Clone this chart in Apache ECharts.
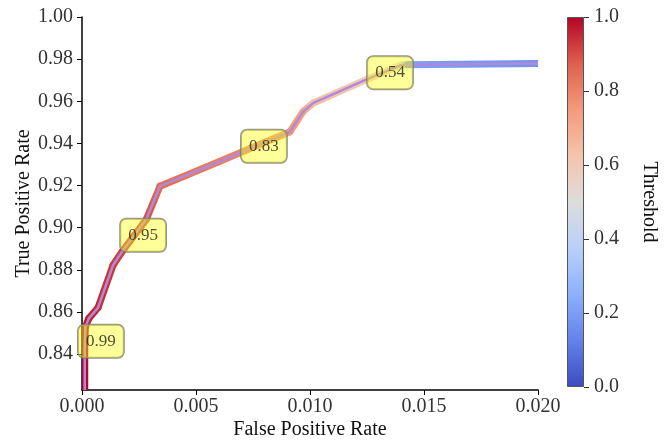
<!DOCTYPE html>
<html>
<head>
<meta charset="utf-8">
<script src="https://cdn.jsdelivr.net/npm/echarts@6/dist/echarts.min.js"></script>
<style>html,body{margin:0;padding:0;background:#fff}#c{width:666px;height:440px}</style>
</head>
<body>
<div id="c"></div>
<script>
// ROC curve points
const fpr = [0.00012, 0.00012, 0.00015, 0.00030, 0.00070, 0.00136, 0.00180, 0.00282, 0.00342, 0.00600, 0.00800, 0.00912, 0.00969, 0.01013, 0.01241, 0.01400, 0.01430, 0.02000];
const tpr = [0.8230, 0.8450, 0.8530, 0.8570, 0.8620, 0.8822, 0.8893, 0.9040, 0.9197, 0.9313, 0.9404, 0.9455, 0.9550, 0.9591, 0.9700, 0.9772, 0.9774, 0.9779];
const thr = [1.000, 0.990, 0.975, 0.965, 0.950, 0.930, 0.920, 0.900, 0.850, 0.810, 0.790, 0.760, 0.730, 0.640, 0.590, 0.530, 0.200, 0.170];
// annotation boxes
const annX = [0.00083, 0.00268, 0.00798, 0.01351];
const annY = [0.8461, 0.8964, 0.9387, 0.9736];
const annText = ['0.99', '0.95', '0.83', '0.54'];
// axis ticks
const yTicks = [0.84, 0.86, 0.88, 0.90, 0.92, 0.94, 0.96, 0.98, 1.00];

const FONT = "'Liberation Serif', 'DejaVu Serif', serif";
const cwStops = [[0,'#3b4cc0'],[0.125,'#6282ea'],[0.25,'#8db0fe'],[0.375,'#b8d0f9'],[0.5,'#dddddd'],[0.625,'#f5c4ac'],[0.75,'#f49a7b'],[0.875,'#de604d'],[1,'#b40426']];
function hex2rgb(h){return [parseInt(h.slice(1,3),16),parseInt(h.slice(3,5),16),parseInt(h.slice(5,7),16)];}
function coolwarm(t){
  t = Math.max(0, Math.min(1, t));
  for (let i = 0; i < cwStops.length - 1; i++) {
    const [a, ca] = cwStops[i], [b, cb] = cwStops[i+1];
    if (t <= b) {
      const f = (t - a) / (b - a), A = hex2rgb(ca), B = hex2rgb(cb);
      return 'rgb(' + A.map((v, k) => Math.round(v + (B[k] - v) * f)).join(',') + ')';
    }
  }
  return cwStops[cwStops.length-1][1];
}

const segs = [];
for (let i = 0; i < fpr.length - 1; i++) segs.push([fpr[i], tpr[i], fpr[i+1], tpr[i+1], thr[i], thr[i+1]]);

const chart = echarts.init(document.getElementById('c'), null, {renderer: 'canvas'});
const axisText = {fontFamily: FONT, fontSize: 20, color: '#333'};
chart.setOption({
  animation: false,
  grid: [
    {left: 82, right: 128, top: 17, bottom: 50, outerBoundsMode: 'none', containLabel: false},
    {left: 567, width: 17, top: 17, bottom: 53, outerBoundsMode: 'none', containLabel: false}
  ],
  xAxis: [
    {type: 'value', gridIndex: 0, min: 0, max: 0.02, interval: 0.005,
     name: 'False Positive Rate', nameLocation: 'middle', nameGap: 30, nameMoveOverlap: false,
     nameTextStyle: {fontFamily: FONT, fontSize: 20, color: '#111'},
     axisLine: {show: true, onZero: false, lineStyle: {color: '#000', width: 1.5}},
     axisTick: {show: true, length: 5, lineStyle: {color: '#000'}},
     axisLabel: Object.assign({margin: 7, formatter: v => v.toFixed(3)}, axisText),
     splitLine: {show: false}},
    {type: 'category', gridIndex: 1, data: ['cb'], show: false}
  ],
  yAxis: [
    {type: 'value', gridIndex: 0, min: 0.823, max: 1.0,
     name: 'True Positive Rate', nameLocation: 'middle', nameGap: 48, nameMoveOverlap: false,
     nameTextStyle: {fontFamily: FONT, fontSize: 20, color: '#111'},
     axisLine: {show: true, onZero: false, lineStyle: {color: '#000', width: 1.5}},
     axisTick: {show: true, length: 5, customValues: yTicks, lineStyle: {color: '#000'}},
     axisLabel: Object.assign({margin: 9, customValues: yTicks, formatter: v => v.toFixed(2)}, axisText),
     splitLine: {show: false}},
    {type: 'value', gridIndex: 1, min: 0, max: 1, interval: 0.2, position: 'right',
     name: 'Threshold', nameLocation: 'middle', nameGap: 55, nameRotate: -90,
     nameTextStyle: {fontFamily: FONT, fontSize: 20, color: '#111'},
     axisLine: {show: false},
     axisTick: {show: true, length: 5, lineStyle: {color: '#333'}},
     axisLabel: Object.assign({margin: 10, formatter: v => v.toFixed(1)}, axisText),
     splitLine: {show: false}}
  ],
  series: [
    {type: 'custom', xAxisIndex: 0, yAxisIndex: 0, z: 2, clip: true,
     data: segs, encode: {x: [0, 2], y: [1, 3]},
     renderItem: function(params, api) {
       const p1 = api.coord([api.value(0), api.value(1)]);
       const p2 = api.coord([api.value(2), api.value(3)]);
       const c1 = coolwarm(api.value(4)), c2 = coolwarm(api.value(5));
       let stroke = c1;
       if (Math.abs(p1[0]-p2[0]) + Math.abs(p1[1]-p2[1]) > 0.5) {
         stroke = new echarts.graphic.LinearGradient(p1[0], p1[1], p2[0], p2[1], [{offset: 0, color: c1}, {offset: 1, color: c2}], true);
       }
       return {type: 'line', shape: {x1: p1[0], y1: p1[1], x2: p2[0], y2: p2[1]},
               style: {stroke: stroke, lineWidth: 7, lineCap: 'round', fill: null}};
     }},
    {type: 'line', xAxisIndex: 0, yAxisIndex: 0, z: 3, showSymbol: false, symbol: 'none',
     data: fpr.map((x, i) => [x, tpr[i]]),
     lineStyle: {color: '#b08ad8', width: 2.5, opacity: 1}},
    {type: 'scatter', xAxisIndex: 0, yAxisIndex: 0, z: 5, symbolSize: 2,
     itemStyle: {color: 'rgba(0,0,0,0)'},
     data: annX.map((x, i) => [x, annY[i], annText[i]]),
     label: {show: true, position: 'inside', formatter: p => p.value[2],
       fontFamily: FONT, fontSize: 17, color: '#222',
       backgroundColor: 'rgba(255,255,0,0.5)', borderColor: '#777', borderWidth: 1,
       borderRadius: 6, padding: [8, 8]}},
    {type: 'bar', xAxisIndex: 1, yAxisIndex: 1, data: [1], barWidth: '100%',
     itemStyle: {borderColor: '#555', borderWidth: 1,
       color: new echarts.graphic.LinearGradient(0, 0, 0, 1,
         cwStops.slice().reverse().map(s => ({offset: 1 - s[0], color: s[1]})))}}
  ]
});
</script>
</body>
</html>
